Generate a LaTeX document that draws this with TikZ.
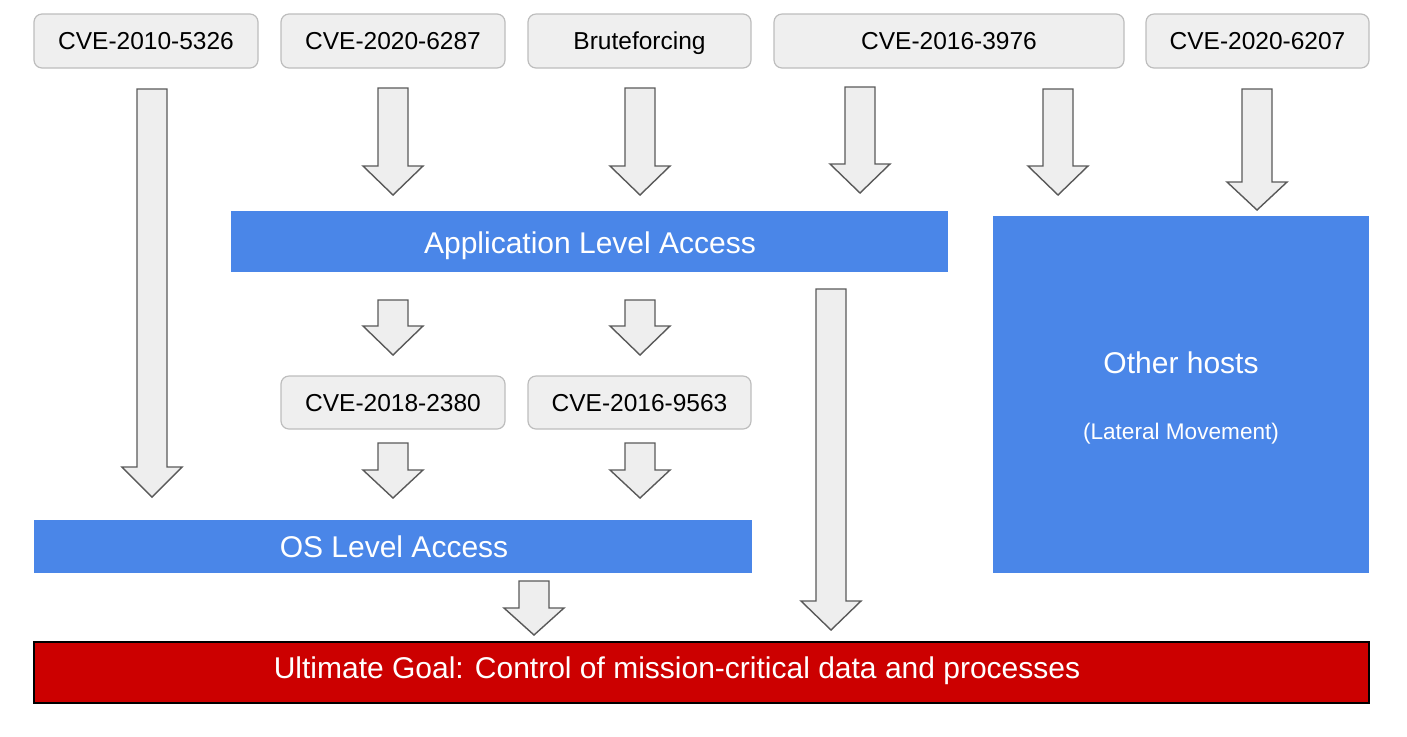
\documentclass[tikz,border=0pt]{standalone}
\usepackage{fontspec}
\setmainfont{Liberation Sans}
\definecolor{boxfill}{HTML}{EFEFEF}
\definecolor{boxline}{HTML}{BDBDBD}
\definecolor{gblue}{HTML}{4A86E8}
\definecolor{gred}{HTML}{CC0000}
\definecolor{arrline}{HTML}{595959}
\definecolor{arrfill}{HTML}{EEEEEE}
\tikzset{
  cvebox/.style={draw=boxline, fill=boxfill, rounded corners=4pt, line width=0.6pt, inner sep=0pt, font=\fontsize{12.25}{14}\selectfont, text=black, text height=8.77pt, text depth=0pt},
  bluebox/.style={fill=gblue, inner sep=0pt},
  goalbox/.style={draw=black, fill=gred, line width=0.8pt, inner sep=0pt},
  biglbl/.style={text=white, inner sep=0pt, font=\fontsize{15}{18}\selectfont, text height=10.74pt, text depth=0pt},
  smalllbl/.style={text=white, inner sep=0pt, font=\fontsize{11.3}{14}\selectfont, text height=8.09pt, text depth=0pt},
  arr/.style={draw=arrline, fill=arrfill, line width=0.7pt, line join=miter},
}
\newcommand\barrow[4]{%
  \draw[arr] (#1-15,#2) -- (#1+15,#2) -- (#1+15,#3) -- (#1+30,#3) -- (#1,#4) -- (#1-30,#3) -- (#1-15,#3) -- cycle;}
\begin{document}
\begin{tikzpicture}[x=0.5pt,y=-0.5pt]
\useasboundingbox (0,0) rectangle (1407,736);
% top boxes
\node[cvebox, minimum width=224*0.5pt, minimum height=54*0.5pt] (c1) at (146,41) {CVE-2010-5326};
\node[cvebox, minimum width=224*0.5pt, minimum height=54*0.5pt] (c2) at (393,41) {CVE-2020-6287};
\node[cvebox, minimum width=223*0.5pt, minimum height=54*0.5pt] (c3) at (639.5,41) {Bruteforcing};
\node[cvebox, minimum width=350*0.5pt, minimum height=54*0.5pt] (c4) at (949,41) {CVE-2016-3976};
\node[cvebox, minimum width=223*0.5pt, minimum height=54*0.5pt] (c5) at (1257.5,41) {CVE-2020-6207};
% access levels
\node[bluebox, minimum width=717*0.5pt, minimum height=61*0.5pt] (app) at (589.5,241.5) {};
\node[biglbl] (applbl) at (590,243) {Application Level Access};
\node[bluebox, minimum width=376*0.5pt, minimum height=357*0.5pt] (hosts) at (1181,394.5) {};
\node[biglbl] (hostslbl) at (1181,363) {Other hosts};
\node[smalllbl] (latlbl) at (1181,431) {(Lateral Movement)};
\node[cvebox, minimum width=224*0.5pt, minimum height=53*0.5pt] (c6) at (393,402.5) {CVE-2018-2380};
\node[cvebox, minimum width=223*0.5pt, minimum height=53*0.5pt] (c7) at (639.5,402.5) {CVE-2016-9563};
\node[bluebox, minimum width=718*0.5pt, minimum height=53*0.5pt] (os) at (393,546.5) {};
\node[biglbl] (oslbl) at (394,547) {OS Level Access};
\node[goalbox, minimum width=1335*0.5pt, minimum height=61*0.5pt] (goal) at (701.5,672.5) {};
\node[biglbl] (goallbl) at (677,668) {Ultimate Goal: Control of mission-critical data and processes};
% block arrows
\barrow{152}{89}{467}{497}
\barrow{393}{88}{166}{195}
\barrow{640}{88}{166}{195}
\barrow{860}{87}{164}{193}
\barrow{1058}{89}{166}{195}
\barrow{1257}{89}{182}{210}
\barrow{393}{300}{326}{355}
\barrow{640}{300}{326}{355}
\barrow{393}{443}{470}{498}
\barrow{640}{443}{470}{498}
\barrow{534}{581}{608}{635}
\barrow{831}{289}{601}{630}
\end{tikzpicture}
\end{document}
